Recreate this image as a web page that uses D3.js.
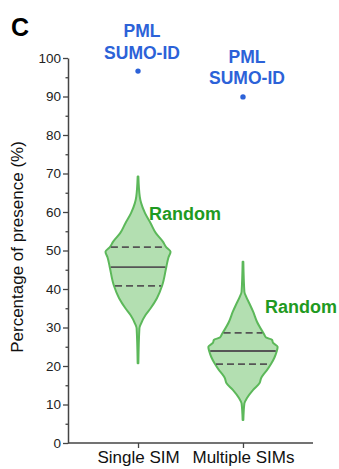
<!DOCTYPE html>
<html>
<head>
<meta charset="utf-8">
<script src="https://cdn.jsdelivr.net/npm/d3@7"></script>
<style>
  html, body { margin: 0; padding: 0; background: #fff; }
  svg { display: block; font-family: "Liberation Sans", Arial, Helvetica, sans-serif; }
</style>
</head>
<body>
<svg id="chart" width="339" height="469"></svg>
<script>
// ---- data ----
const categories = ["Single SIM", "Multiple SIMs"];
const yTickValues = [0, 10, 20, 30, 40, 50, 60, 70, 80, 90, 100];
const yMinorTicks = [5, 15, 25, 35, 45, 55, 65, 75, 85, 95];

// violin density profiles (value levels, relative density)
const singleLevels  = [69.2, 64.0, 62.3, 59.7, 57.1, 54.5, 52.3, 50.8, 49.7, 48.2, 45.8, 40.9, 37.6, 35.0, 33.2, 31.1, 29.8, 20.7];
const singleDensity = [0.01, 0.05, 0.09, 0.20, 0.36, 0.51, 0.71, 0.81, 0.93, 0.87, 0.81, 0.69, 0.54, 0.36, 0.21, 0.09, 0.04, 0.01];
const multiLevels   = [47.1, 39.3, 38.0, 36.3, 34.1, 31.5, 28.3, 27.4, 26.8, 26.0, 25.0, 23.7, 22.2, 20.5, 19.0, 18.1, 16.9, 15.5, 13.8, 11.6, 10.3, 6.0];
const multiDensity  = [0.01, 0.04, 0.09, 0.18, 0.29, 0.40, 0.60, 0.66, 0.83, 0.86, 0.99, 0.96, 0.90, 0.80, 0.69, 0.61, 0.52, 0.47, 0.29, 0.11, 0.04, 0.01];

// quartiles [Q1, median, Q3]
const singleQuartiles = [40.8, 45.7, 50.9];
const multiQuartiles  = [20.5, 23.9, 28.6];

// PML SUMO-ID observed values
const pmlValues = [96.6, 89.9];
const pmlLabel = ["PML", "SUMO-ID"];
const randomLabel = "Random";

// ---- drawing ----
const svg = d3.select("#chart");
const y = d3.scaleLinear().domain([0, 100]).range([443, 58]);
const x = d3.scalePoint().domain(categories).range([68, 313]).padding(0.667);
const w = d3.scaleLinear().domain([0, 1]).range([0, 35]);

const GREEN_TEXT = "#1f9a22";
const BLUE = "#2c62d8";

// Panel letter
svg.append("text").attr("x", 11).attr("y", 36)
  .attr("font-size", 25).attr("font-weight", "bold").attr("fill", "#000").text("C");

// Y axis minor ticks
const minorAxis = d3.axisLeft(y).tickValues(yMinorTicks).tickSize(2.5).tickFormat("");
const gMinor = svg.append("g").attr("transform", "translate(68,0)").call(minorAxis);
gMinor.select(".domain").remove();
gMinor.selectAll("line").attr("stroke", "#444").attr("stroke-width", 1.3);

// Y axis major
const majorAxis = d3.axisLeft(y).tickValues(yTickValues).tickSize(5).tickPadding(2).tickSizeOuter(0);
const gY = svg.append("g").attr("transform", "translate(68,0)").call(majorAxis);
gY.select(".domain").attr("stroke", "#444").attr("stroke-width", 1.5);
gY.selectAll("line").attr("stroke", "#444").attr("stroke-width", 1.3);
gY.selectAll("text").attr("font-size", 13.5).attr("fill", "#222")
  .attr("font-family", "'Liberation Sans', Arial, sans-serif");

// X axis
const xAxis = d3.axisBottom(x).tickSize(5).tickSizeOuter(0).tickPadding(3);
const gX = svg.append("g").attr("transform", "translate(0,443)").call(xAxis);
gX.select(".domain").attr("d", "M68,0H313").attr("stroke", "#444").attr("stroke-width", 1.5);
gX.selectAll("line").attr("stroke", "#444").attr("stroke-width", 1.3);
gX.selectAll("text").attr("font-size", 17).attr("fill", "#111")
  .attr("font-family", "'Liberation Sans', Arial, sans-serif").attr("dy", "0.71em");

// Y label
svg.append("text")
  .attr("transform", "translate(23,247) rotate(-90)")
  .attr("text-anchor", "middle").attr("font-size", 17).attr("fill", "#111")
  .text("Percentage of presence (%)");

// Violins
const violins = [
  { cat: categories[0], levels: singleLevels, dens: singleDensity, q: singleQuartiles },
  { cat: categories[1], levels: multiLevels, dens: multiDensity, q: multiQuartiles }
];

function densAt(levels, dens, v) {
  for (let i = 0; i < levels.length - 1; i++) {
    const a = levels[i], b = levels[i + 1];
    if (v <= a && v >= b) {
      const t = (a - v) / (a - b);
      return dens[i] + t * (dens[i + 1] - dens[i]);
    }
  }
  return 0;
}

violins.forEach(vd => {
  const cx = x(vd.cat);
  const pts = vd.levels.map((lv, i) => ({ v: lv, d: vd.dens[i] }));
  const area = d3.area()
    .y(p => y(p.v))
    .x0(p => cx - w(p.d))
    .x1(p => cx + w(p.d))
    .curve(d3.curveMonotoneY);
  svg.append("path").datum(pts.slice().reverse())
    .attr("d", area)
    .attr("fill", "#b3dfb1")
    .attr("stroke", "#5cb85a")
    .attr("stroke-width", 2)
    .attr("stroke-linejoin", "round");

  vd.q.forEach((qv, i) => {
    const hw = w(densAt(vd.levels, vd.dens, qv)) - 1;
    svg.append("line")
      .attr("x1", cx - hw).attr("x2", cx + hw)
      .attr("y1", y(qv)).attr("y2", y(qv))
      .attr("stroke", "#555")
      .attr("stroke-width", 1.8)
      .attr("stroke-dasharray", i === 1 ? null : "7,4");
  });
});

// Random labels
svg.append("text").attr("x", x(categories[0]) + 11).attr("y", y(57.9))
  .attr("font-size", 18).attr("font-weight", "bold").attr("fill", GREEN_TEXT).text(randomLabel);
svg.append("text").attr("x", x(categories[1]) + 22).attr("y", y(33.8))
  .attr("font-size", 18).attr("font-weight", "bold").attr("fill", GREEN_TEXT).text(randomLabel);

// PML SUMO-ID points and labels
pmlValues.forEach((pv, i) => {
  const cx = x(categories[i]);
  const cy = y(pv);
  svg.append("circle").attr("cx", cx).attr("cy", cy).attr("r", 2.7).attr("fill", BLUE);
  const t = svg.append("text").attr("text-anchor", "middle")
    .attr("font-size", 17.5).attr("font-weight", "bold").attr("fill", BLUE);
  t.append("tspan").attr("x", cx + 4).attr("y", cy - 34).text(pmlLabel[0]);
  t.append("tspan").attr("x", cx + 4).attr("y", cy - 12.5).text(pmlLabel[1]);
});
</script>
</body>
</html>
